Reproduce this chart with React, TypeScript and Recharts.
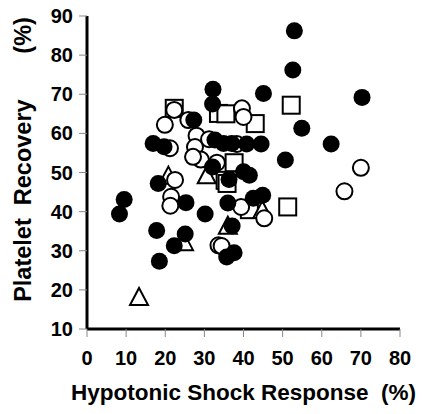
import React from "react";
import { ScatterChart, Scatter, XAxis, YAxis } from "recharts";

const xTicks = [0, 10, 20, 30, 40, 50, 60, 70, 80];
const yTicks = [10, 20, 30, 40, 50, 60, 70, 80, 90];

const filledCircles = [
  { x: 53.0, y: 86.2 }, { x: 52.6, y: 76.2 }, { x: 45.1, y: 70.2 }, { x: 70.3, y: 69.2 },
  { x: 32.2, y: 71.3 }, { x: 32.1, y: 67.5 }, { x: 27.3, y: 63.4 }, { x: 54.9, y: 61.3 },
  { x: 62.4, y: 57.3 }, { x: 40.8, y: 57.3 }, { x: 44.5, y: 57.3 }, { x: 32.7, y: 58.3 },
  { x: 34.9, y: 57.4 }, { x: 37.0, y: 57.4 }, { x: 16.9, y: 57.4 }, { x: 19.7, y: 56.6 },
  { x: 50.7, y: 53.2 }, { x: 32.1, y: 51.4 }, { x: 40.0, y: 50.2 }, { x: 41.5, y: 49.3 },
  { x: 36.3, y: 48.2 }, { x: 18.2, y: 47.2 }, { x: 44.9, y: 44.2 }, { x: 42.5, y: 43.4 },
  { x: 9.5, y: 43.1 }, { x: 25.3, y: 42.3 }, { x: 36.0, y: 42.2 }, { x: 8.3, y: 39.4 },
  { x: 30.2, y: 39.4 }, { x: 37.1, y: 36.3 }, { x: 17.8, y: 35.2 }, { x: 25.1, y: 34.3 },
  { x: 22.3, y: 31.3 }, { x: 18.5, y: 27.3 }, { x: 35.7, y: 28.4 }, { x: 37.6, y: 29.5 },
];

const openCircles = [
  { x: 22.3, y: 66.0 }, { x: 19.9, y: 62.2 }, { x: 25.9, y: 63.4 }, { x: 39.6, y: 66.4 },
  { x: 40.0, y: 64.2 }, { x: 28.0, y: 59.4 }, { x: 21.2, y: 56.2 }, { x: 27.6, y: 56.5 },
  { x: 31.2, y: 58.5 }, { x: 38.3, y: 57.3 }, { x: 29.1, y: 53.3 }, { x: 27.1, y: 54.0 },
  { x: 33.2, y: 52.5 }, { x: 22.5, y: 48.1 }, { x: 21.5, y: 43.8 }, { x: 21.3, y: 41.5 },
  { x: 39.4, y: 41.2 }, { x: 45.3, y: 38.3 }, { x: 33.6, y: 31.4 }, { x: 34.4, y: 31.2 },
  { x: 70.0, y: 51.2 }, { x: 65.8, y: 45.2 },
];

const openSquares = [
  { x: 22.3, y: 66.4 }, { x: 33.6, y: 65.1 }, { x: 35.5, y: 65.0 }, { x: 43.0, y: 62.5 },
  { x: 52.2, y: 67.2 }, { x: 37.6, y: 52.5 }, { x: 35.3, y: 48.0 }, { x: 35.8, y: 47.2 },
  { x: 51.3, y: 41.2 }, { x: 41.5, y: 40.5 },
];

const openTriangles = [
  { x: 13.3, y: 18.2 }, { x: 24.8, y: 32.2 }, { x: 36.0, y: 36.4 }, { x: 44.8, y: 40.4 },
  { x: 30.6, y: 49.3 }, { x: 20.8, y: 49.2 },
];

const FONT = "'Liberation Sans', Arial, Helvetica, sans-serif";

const FilledCircle = (p: any) => <circle cx={p.cx} cy={p.cy} r={8.5} fill="#000" />;
const OpenCircle = (p: any) => (
  <circle cx={p.cx} cy={p.cy} r={8} fill="#fff" stroke="#000" strokeWidth={2} />
);
const OpenSquare = (p: any) => (
  <rect x={p.cx - 8.5} y={p.cy - 8.5} width={17} height={17} fill="#fff" stroke="#000" strokeWidth={2} />
);
const OpenTriangle = (p: any) => (
  <path
    d={`M${p.cx},${p.cy - 9} L${p.cx + 9},${p.cy + 8} L${p.cx - 9},${p.cy + 8} Z`}
    fill="#fff"
    stroke="#000"
    strokeWidth={2}
    strokeLinejoin="miter"
  />
);

const XLabel = (props: any) => {
  const vb = props.viewBox;
  return (
    <text
      x={vb.x + vb.width / 2}
      y={vb.y + 71}
      textAnchor="middle"
      fontFamily={FONT}
      fontWeight="bold"
      fontSize={22.5}
      fill="#000"
      style={{ whiteSpace: "pre" }}
    >
      {"Hypotonic Shock Response  (%)"}
    </text>
  );
};

const YLabel = (props: any) => {
  const vb = props.viewBox;
  const cx = 31;
  const cy = vb.y + vb.height / 2 - 13;
  return (
    <text
      x={cx}
      y={cy}
      transform={`rotate(-90, ${cx}, ${cy})`}
      textAnchor="middle"
      fontFamily={FONT}
      fontWeight="bold"
      fontSize={23.5}
      fill="#000"
      style={{ whiteSpace: "pre" }}
    >
      {"Platelet  Recovery       (%)"}
    </text>
  );
};

export default function App() {
  const tickStyle = { fontFamily: FONT, fontWeight: "bold", fontSize: 20, fill: "#000" } as any;
  return (
    <div style={{ position: "absolute", left: 0, top: 0, width: 422, height: 414, background: "#fff" }}>
      <ScatterChart width={422} height={414} margin={{ top: 16, right: 22, bottom: 0, left: 0 }}>
        <XAxis
          type="number"
          dataKey="x"
          domain={[0, 80]}
          ticks={xTicks}
          interval={0}
          height={85}
          axisLine={{ stroke: "#000", strokeWidth: 3 }}
          tickLine={{ stroke: "#888", strokeWidth: 1 }}
          tickSize={8}
          tickMargin={14}
          tick={tickStyle}
          label={<XLabel />}
        />
        <YAxis
          type="number"
          dataKey="y"
          domain={[10, 90]}
          ticks={yTicks}
          interval={0}
          width={87}
          axisLine={{ stroke: "#000", strokeWidth: 3 }}
          tickLine={{ stroke: "#888", strokeWidth: 1 }}
          tickSize={8}
          tickMargin={6}
          tick={tickStyle}
          label={<YLabel />}
        />
        <Scatter data={openSquares} shape={OpenSquare} isAnimationActive={false} />
        <Scatter data={openTriangles} shape={OpenTriangle} isAnimationActive={false} />
        <Scatter data={openCircles} shape={OpenCircle} isAnimationActive={false} />
        <Scatter data={filledCircles} shape={FilledCircle} isAnimationActive={false} />
      </ScatterChart>
    </div>
  );
}
